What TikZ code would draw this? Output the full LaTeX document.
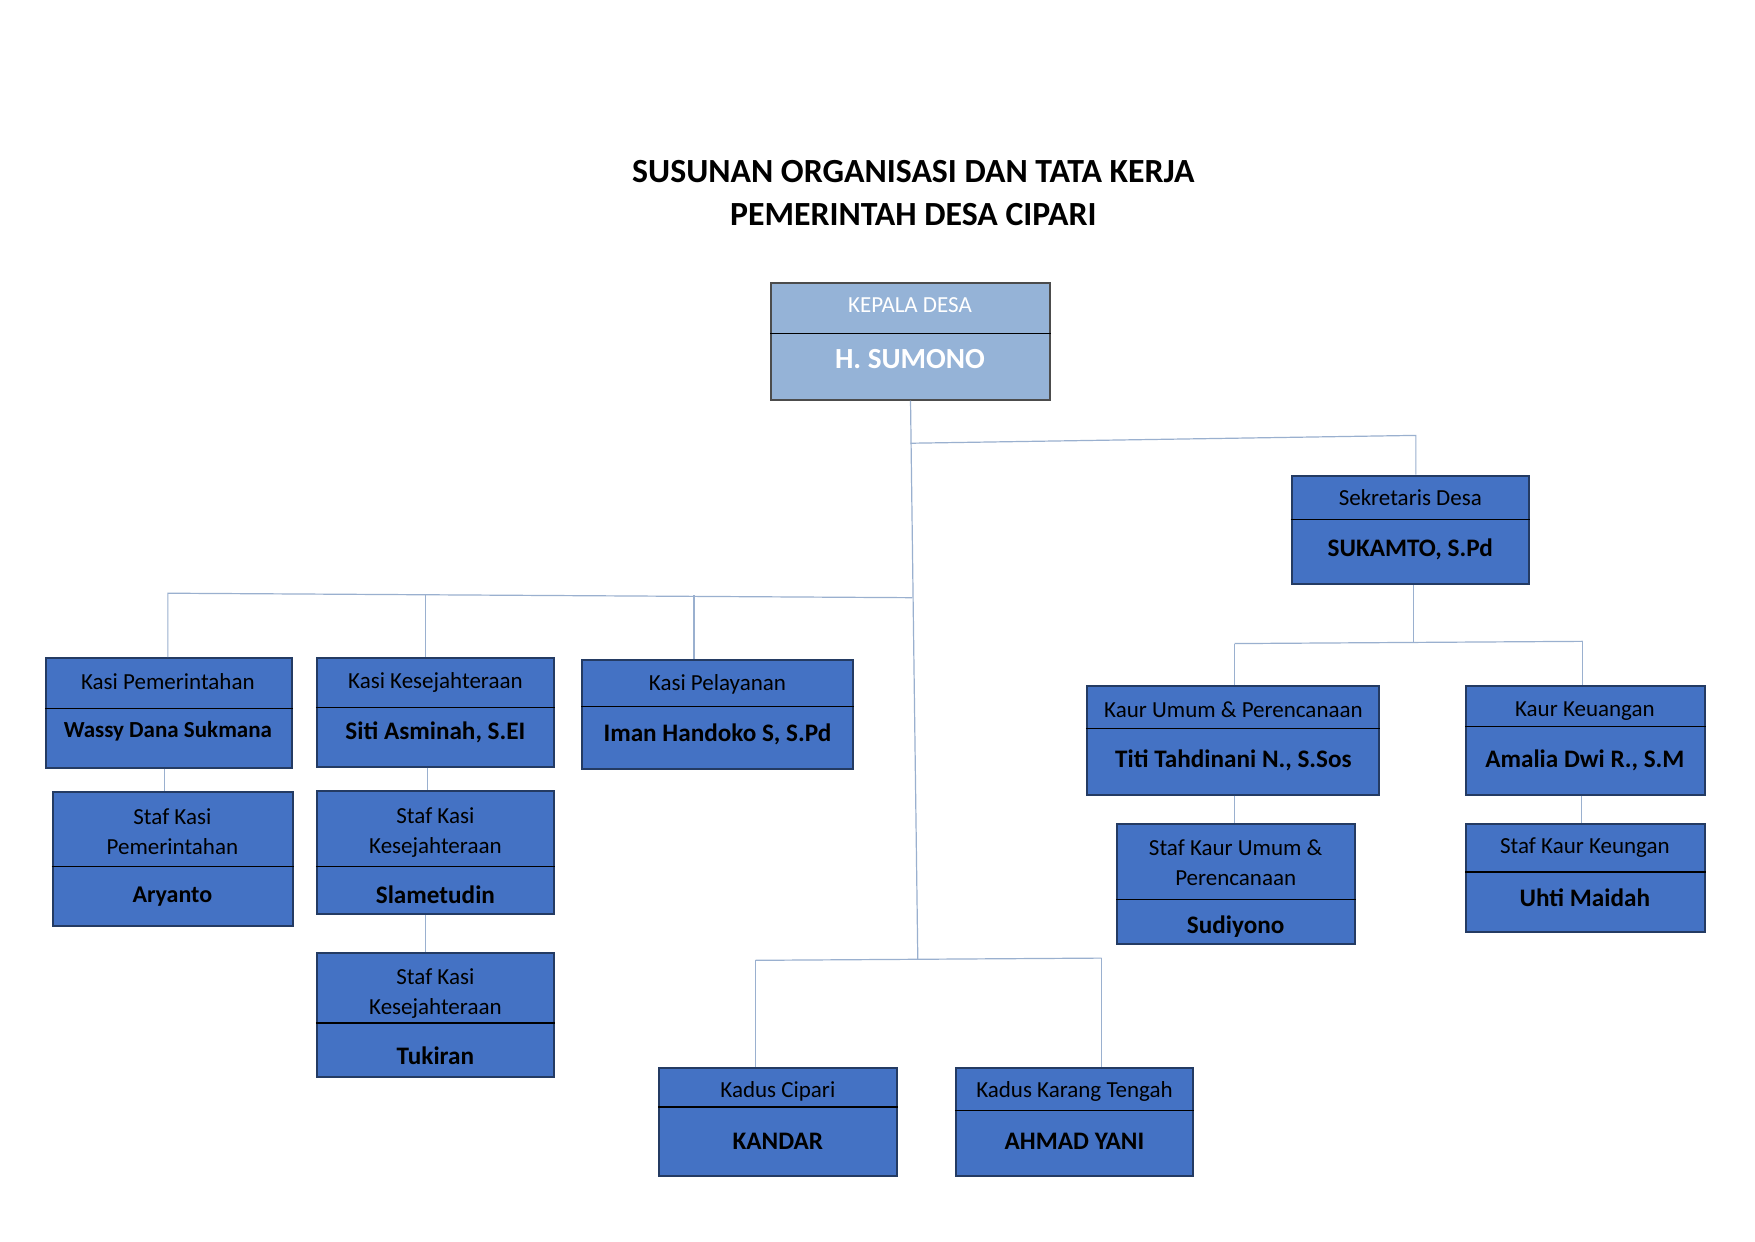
\documentclass[tikz,border=0pt]{standalone}
\usepackage{fontspec}
\setmainfont{Carlito}
\usetikzlibrary{positioning,calc,fit}
\definecolor{biruKotak}{HTML}{4472C4}
\definecolor{biruMuda}{HTML}{95B3D7}
\definecolor{tepiKotak}{HTML}{243B63}
\definecolor{garisHub}{HTML}{9AB0CF}
\tikzset{%
  kotak/.style={draw=tepiKotak,line width=1pt,fill=biruKotak,inner sep=0pt},
  kotakkades/.style={draw=black!70,line width=1pt,fill=biruMuda,inner sep=0pt},
  sekat/.style={black,line width=0.6pt},
  jabatan/.style={font=\fontsize{11.5}{15}\selectfont,align=center,inner sep=0pt},
  nama/.style={font=\bfseries\fontsize{12.6}{15}\selectfont,inner sep=0pt,yshift=-1.2pt},
  judul/.style={font=\bfseries\fontsize{16.9}{21.8}\selectfont,align=center,inner sep=0pt},
  hub/.style={draw=garisHub,line width=0.6pt}%
}

\begin{document}
\begin{tikzpicture}[x=0.5597pt,y=-0.5597pt]
\fill[white] (0,0) rectangle (1568,1109);
\useasboundingbox (0,0) rectangle (1568,1109);

% Judul
\node[judul] (judul) at (816,172.5) {SUSUNAN ORGANISASI DAN TATA KERJA\\PEMERINTAH DESA CIPARI};

% Kepala desa
\node[kotakkades, fit={(689,253)(938,357)}] (kades) {};
\draw[sekat] (kades.west |- 0,298) -- (kades.east |- 0,298);
\node[jabatan, text=white] (kadesJ) at (813,273) {KEPALA DESA};
\node[nama, text=white, font=\bfseries\fontsize{14.6}{17}\selectfont] (kadesN) at (813,319) {H. SUMONO};

% Sekretaris desa
\node[kotak, fit={(1154,425)(1366,522)}] (sekdes) {};
\draw[sekat] (sekdes.west |- 0,464) -- (sekdes.east |- 0,464);
\node[jabatan] (sekdesJ) at (1260,445) {Sekretaris Desa};
\node[nama] (sekdesN) at (1260,489) {SUKAMTO, S.Pd};

% Kasi
\node[kotak, fit={(41,588)(261,686)}] (kasipem) {};
\draw[sekat] (kasipem.west |- 0,633) -- (kasipem.east |- 0,633);
\node[jabatan] (kasipemJ) at (150,609) {Kasi Pemerintahan};
\node[nama, font=\bfseries\fontsize{11.5}{14}\selectfont] (kasipemN) at (150,651) {Wassy Dana Sukmana};

\node[kotak, fit={(283,588)(495,685)}] (kasikes) {};
\draw[sekat] (kasikes.west |- 0,632) -- (kasikes.east |- 0,632);
\node[jabatan] (kasikesJ) at (389,610) {Kasi Kesejahteraan};
\node[nama] (kasikesN) at (389,652) {Siti Asminah, S.EI};

\node[kotak, fit={(520,590)(762,687)}] (kasipel) {};
\draw[sekat] (kasipel.west |- 0,631) -- (kasipel.east |- 0,631);
\node[jabatan] (kasipelJ) at (641,611) {Kasi Pelayanan};
\node[nama] (kasipelN) at (641,654) {Iman Handoko S, S.Pd};

% Staf kasi
\node[kotak, fit={(47,708)(262,827)}] (stafpem) {};
\draw[sekat] (stafpem.west |- 0,774) -- (stafpem.east |- 0,774);
\node[jabatan] (stafpemJ) at (154,743) {Staf Kasi\\Pemerintahan};
\node[nama, font=\bfseries\fontsize{12}{14}\selectfont] (stafpemN) at (154,799) {Aryanto};

\node[kotak, fit={(283,707)(495,817)}] (stafkesA) {};
\draw[sekat] (stafkesA.west |- 0,774) -- (stafkesA.east |- 0,774);
\node[jabatan] (stafkesAJ) at (389,743.5) {Staf Kasi\\Kesejahteraan};
\node[nama] (stafkesAN) at (389,797) {Slametudin};

\node[kotak, fit={(283,851)(495,962)}] (stafkesB) {};
\draw[sekat] (stafkesB.west |- 0,914) -- (stafkesB.east |- 0,914);
\node[jabatan] (stafkesBJ) at (389,887.5) {Staf Kasi\\Kesejahteraan};
\node[nama] (stafkesBN) at (389,941) {Tukiran};

% Kaur
\node[kotak, fit={(971,613)(1232,710)}] (kaurum) {};
\draw[sekat] (kaurum.west |- 0,651) -- (kaurum.east |- 0,651);
\node[jabatan] (kaurumJ) at (1102,634) {Kaur Umum \& Perencanaan};
\node[nama] (kaurumN) at (1102,677) {Titi Tahdinani N., S.Sos};

\node[kotak, fit={(1310,613)(1523,710)}] (kaurkeu) {};
\draw[sekat] (kaurkeu.west |- 0,649) -- (kaurkeu.east |- 0,649);
\node[jabatan] (kaurkeuJ) at (1416,635) {Kaur Keuangan};
\node[nama] (kaurkeuN) at (1416,677) {Amalia Dwi R., S.M};

% Staf kaur
\node[kotak, fit={(998,736)(1211,843)}] (stafum) {};
\draw[sekat] (stafum.west |- 0,804) -- (stafum.east |- 0,804);
\node[jabatan] (stafumJ) at (1104,771) {Staf Kaur Umum \&\\Perencanaan};
\node[nama] (stafumN) at (1104,826) {Sudiyono};

\node[kotak, fit={(1310,736)(1523,833)}] (stafkeu) {};
\draw[sekat] (stafkeu.west |- 0,779) -- (stafkeu.east |- 0,779);
\node[jabatan] (stafkeuJ) at (1416,757) {Staf Kaur Keungan};
\node[nama] (stafkeuN) at (1416,800) {Uhti Maidah};

% Kadus
\node[kotak, fit={(589,954)(801,1051)}] (kadusA) {};
\draw[sekat] (kadusA.west |- 0,989) -- (kadusA.east |- 0,989);
\node[jabatan] (kadusAJ) at (695,975) {Kadus Cipari};
\node[nama] (kadusAN) at (695,1018) {KANDAR};

\node[kotak, fit={(854,954)(1066,1051)}] (kadusB) {};
\draw[sekat] (kadusB.west |- 0,992) -- (kadusB.east |- 0,992);
\node[jabatan] (kadusBJ) at (960,975) {Kadus Karang Tengah};
\node[nama] (kadusBN) at (960,1018) {AHMAD YANI};

% Titik cabang
\coordinate (jSekKiri) at (813.5,396);
\coordinate (jSekKanan) at (1265,389);
\coordinate (jKasi) at (815,534);
\coordinate (jKasiPem) at (150,530);
\coordinate (jKasiKes) at (380,531);
\coordinate (jKasiPel) at (620,532);
\coordinate (jKadus) at (820,857);
\coordinate (jKadusA) at (675,858);
\coordinate (jKadusB) at (984,856);
\coordinate (jKaur) at (1263,574);
\coordinate (jKaurUm) at (1103,575);
\coordinate (jKaurKeu) at (1414,573);

% Garis hubung
\draw[hub] (kades.south) -- (jKadus);
\draw[hub] (jSekKiri) -- (jSekKanan) -- (jSekKanan |- sekdes.north);
\draw[hub] (jKasi) -- (jKasiPem) -- (jKasiPem |- kasipem.north);
\draw[hub] (jKasiKes) -- (jKasiKes |- kasikes.north);
\draw[hub] (jKasiPel) -- (jKasiPel |- kasipel.north);
\draw[hub] (jKadusA) -- (jKadusB);
\draw[hub] (jKadusA) -- (jKadusA |- kadusA.north);
\draw[hub] (jKadusB) -- (jKadusB |- kadusB.north);
\draw[hub] (sekdes.south -| jKaur) -- (jKaur);
\draw[hub] (jKaurUm) -- (jKaurKeu);
\draw[hub] (jKaurUm) -- (jKaurUm |- kaurum.north);
\draw[hub] (jKaurKeu) -- (jKaurKeu |- kaurkeu.north);
\draw[hub] (kasipem.south -| 147,0) -- (stafpem.north -| 147,0);
\draw[hub] (kasikes.south -| 382,0) -- (stafkesA.north -| 382,0);
\draw[hub] (stafkesA.south -| 380,0) -- (stafkesB.north -| 380,0);
\draw[hub] (kaurum.south -| 1103,0) -- (stafum.north -| 1103,0);
\draw[hub] (kaurkeu.south -| 1413,0) -- (stafkeu.north -| 1413,0);

\end{tikzpicture}
\end{document}
